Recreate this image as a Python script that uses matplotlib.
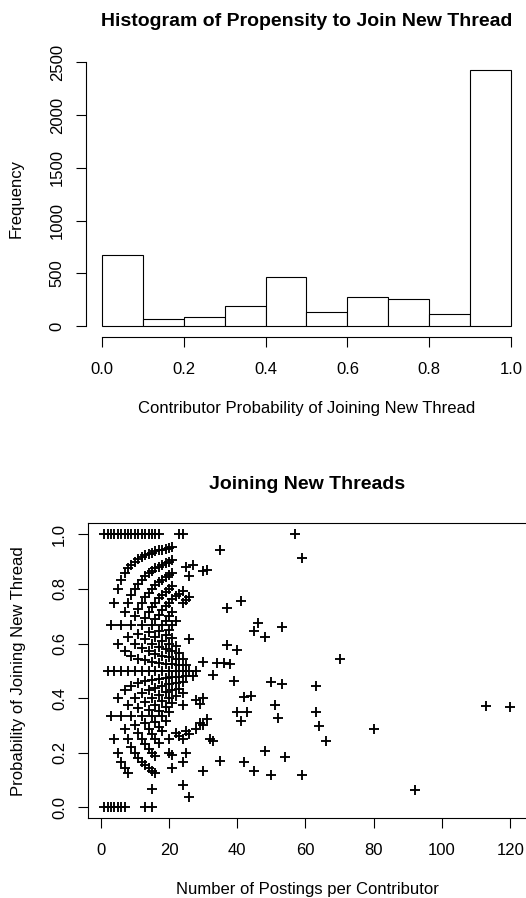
import matplotlib
matplotlib.use("Agg")
import matplotlib.pyplot as plt
import numpy as np

plt.rcParams['font.family'] = ['Liberation Sans', 'DejaVu Sans']

# ---------------- data ----------------
bin_edges = [0.0, 0.1, 0.2, 0.3, 0.4, 0.5, 0.6, 0.7, 0.8, 0.9, 1.0]
bin_counts = [678, 66, 88, 192, 470, 132, 275, 258, 120, 2424]
hist_xticks = [0.0, 0.2, 0.4, 0.6, 0.8, 1.0]
hist_xticklabels = ['0.0', '0.2', '0.4', '0.6', '0.8', '1.0']
hist_yticks = [0, 500, 1000, 1500, 2000, 2500]
hist_yticklabels = ['0', '500', '1000', '1500', '2000', '2500']

postings = [
    1, 1,
    2, 2, 2,
    3, 3, 3, 3,
    4, 4, 4, 4, 4,
    5, 5, 5, 5, 5, 5,
    6, 6, 6, 6, 6, 6, 6,
    7, 7, 7, 7, 7, 7, 7, 7,
    8, 8, 8, 8, 8, 8, 8, 8,
    9, 9, 9, 9, 9, 9, 9, 9,
    10, 10, 10, 10, 10, 10, 10, 10, 10,
    11, 11, 11, 11, 11, 11, 11, 11, 11, 11,
    12, 12, 12, 12, 12, 12, 12, 12, 12, 12, 12,
    13, 13, 13, 13, 13, 13, 13, 13, 13, 13, 13, 13, 13,
    14, 14, 14, 14, 14, 14, 14, 14, 14, 14, 14, 14, 14,
    15, 15, 15, 15, 15, 15, 15, 15, 15, 15, 15, 15, 15, 15, 15, 15,
    16, 16, 16, 16, 16, 16, 16, 16, 16, 16, 16, 16, 16, 16, 16,
    17, 17, 17, 17, 17, 17, 17, 17, 17, 17, 17, 17, 17, 17,
    18, 18, 18, 18, 18, 18, 18, 18, 18, 18, 18, 18, 18,
    19, 19, 19, 19, 19, 19, 19, 19, 19, 19, 19, 19, 19,
    20, 20, 20, 20, 20, 20, 20, 20, 20, 20, 20, 20, 20, 20, 20,
    21, 21, 21, 21, 21, 21, 21, 21, 21, 21, 21, 21, 21, 21, 21,
    22, 22, 22, 22, 22, 22, 22, 22,
    23, 23, 23, 23, 23, 23, 23,
    24, 24, 24, 24, 24, 24, 24, 24, 24, 24, 24,
    25, 25, 25, 25, 25, 25,
    26, 26, 26, 26, 26, 26,
    27, 27,
    28, 28, 28,
    29, 29,
    30, 30, 30, 30, 30,
    31, 31,
    32,
    33, 33,
    34,
    35, 35,
    36,
    37, 37,
    38,
    39,
    40, 40,
    41, 41,
    42, 42,
    43,
    44,
    45, 45,
    46,
    48, 48,
    50, 50,
    51,
    52,
    53, 53,
    54,
    57,
    59, 59,
    63, 63,
    64,
    66,
    70,
    80,
    92,
    113,
    120,
]

join_prob = [
    0.0, 1.0,
    0.0, 0.5, 1.0,
    0.0, 0.333, 0.667, 1.0,
    0.0, 0.25, 0.5, 0.75, 1.0,
    0.0, 0.2, 0.4, 0.6, 0.8, 1.0,
    0.0, 0.167, 0.333, 0.5, 0.667, 0.833, 1.0,
    0.0, 0.143, 0.286, 0.429, 0.571, 0.714, 0.857, 1.0,
    0.125, 0.25, 0.375, 0.5, 0.625, 0.75, 0.875, 1.0,
    0.222, 0.333, 0.444, 0.556, 0.667, 0.778, 0.889, 1.0,
    0.2, 0.3, 0.4, 0.5, 0.6, 0.7, 0.8, 0.9, 1.0,
    0.182, 0.273, 0.364, 0.455, 0.545, 0.636, 0.727, 0.818, 0.909, 1.0,
    0.167, 0.25, 0.333, 0.417, 0.5, 0.583, 0.667, 0.75, 0.833, 0.917, 1.0,
    0.0, 0.154, 0.231, 0.308, 0.385, 0.462, 0.538, 0.615, 0.692, 0.769, 0.846, 0.923, 1.0,
    0.143, 0.214, 0.286, 0.357, 0.429, 0.5, 0.571, 0.643, 0.714, 0.786, 0.857, 0.929, 1.0,
    0.0, 0.067, 0.133, 0.2, 0.267, 0.333, 0.4, 0.467, 0.533, 0.6, 0.667, 0.733, 0.8, 0.867, 0.933, 1.0,
    0.125, 0.188, 0.25, 0.313, 0.375, 0.438, 0.5, 0.563, 0.625, 0.688, 0.75, 0.813, 0.875, 0.938, 1.0,
    0.235, 0.294, 0.353, 0.412, 0.471, 0.529, 0.588, 0.647, 0.706, 0.765, 0.824, 0.882, 0.941, 1.0,
    0.278, 0.333, 0.389, 0.444, 0.5, 0.556, 0.611, 0.667, 0.722, 0.778, 0.833, 0.889, 0.944,
    0.316, 0.368, 0.421, 0.474, 0.526, 0.579, 0.632, 0.684, 0.737, 0.789, 0.842, 0.895, 0.947,
    0.2, 0.25, 0.35, 0.4, 0.45, 0.5, 0.55, 0.6, 0.65, 0.7, 0.75, 0.8, 0.85, 0.9, 0.95,
    0.143, 0.19, 0.381, 0.429, 0.476, 0.524, 0.571, 0.619, 0.667, 0.714, 0.762, 0.81, 0.857, 0.905, 0.952,
    0.273, 0.409, 0.455, 0.5, 0.545, 0.591, 0.682, 0.773,
    0.261, 0.435, 0.478, 0.522, 0.565, 0.783, 1.0,
    0.083, 0.167, 0.25, 0.375, 0.417, 0.458, 0.5, 0.542, 0.75, 0.792, 1.0,
    0.2, 0.28, 0.48, 0.52, 0.76, 0.88,
    0.038, 0.269, 0.5, 0.615, 0.769, 0.846,
    0.481, 0.889,
    0.286, 0.393, 0.5,
    0.31, 0.379,
    0.133, 0.3, 0.4, 0.533, 0.867,
    0.323, 0.871,
    0.25,
    0.242, 0.485,
    0.529,
    0.171, 0.943,
    0.528,
    0.595, 0.730,
    0.526,
    0.462,
    0.35, 0.575,
    0.317, 0.756,
    0.167, 0.405,
    0.349,
    0.409,
    0.133, 0.644,
    0.674,
    0.208, 0.625,
    0.12, 0.46,
    0.373,
    0.327,
    0.453, 0.660,
    0.185,
    1.0,
    0.119, 0.915,
    0.349, 0.444,
    0.297,
    0.242,
    0.543,
    0.2875,
    0.065,
    0.372,
    0.367,
]

scatter_xticks = [0, 20, 40, 60, 80, 100, 120]
scatter_xticklabels = ['0', '20', '40', '60', '80', '100', '120']
scatter_yticks = [0.0, 0.2, 0.4, 0.6, 0.8, 1.0]
scatter_yticklabels = ['0.0', '0.2', '0.4', '0.6', '0.8', '1.0']

# ---------------- figure ----------------
W, H = 526, 898
fig = plt.figure(figsize=(W / 100, H / 100), dpi=100)

FS = 12
TFS = 14.0
TICKLEN = 7.2
LW = 0.8

def fx(px):
    return px / W

# top: histogram
ax1 = fig.add_axes([fx(85.6), 1 - 336.5 / H, fx(441.8), 276.4 / H])
widths = np.diff(bin_edges)
ax1.bar(bin_edges[:-1], bin_counts, width=widths, align='edge',
        facecolor='white', edgecolor='black', linewidth=LW)
ymax = max(bin_counts)
ax1.set_xlim(-0.04, 1.04)
ax1.set_ylim(-0.04 * ymax, 1.04 * ymax)
for s in ['top', 'right']:
    ax1.spines[s].set_visible(False)
ax1.spines['left'].set_bounds(hist_yticks[0], hist_yticks[-1])
ax1.spines['bottom'].set_bounds(hist_xticks[0], hist_xticks[-1])
ax1.set_xticks(hist_xticks, hist_xticklabels)
ax1.set_yticks(hist_yticks, hist_yticklabels, rotation=90, va='center')

# bottom: scatter
ax2 = fig.add_axes([fx(87.9), 1 - 818.2 / H, fx(438.6), 294.8 / H])
ax2.plot(postings, join_prob, linestyle='none', marker='+',
         markersize=6.8, markeredgewidth=1.35, color='black')
xmin, xmax = min(postings), max(postings)
xr = xmax - xmin
ax2.set_xlim(xmin - 0.04 * xr, xmax + 0.04 * xr)
ax2.set_ylim(-0.04, 1.04)
ax2.set_xticks(scatter_xticks, scatter_xticklabels)
ax2.set_yticks(scatter_yticks, scatter_yticklabels, rotation=90, va='center')

for ax, hpx, wpx in [(ax1, 276.4, 441.8), (ax2, 294.8, 438.6)]:
    for s in ax.spines.values():
        s.set_linewidth(LW)
    ax.tick_params(axis='both', length=TICKLEN, width=LW, labelsize=FS, color='black')
    ax.tick_params(axis='x', pad=11)
    ax.tick_params(axis='y', pad=7.8)
    ax.xaxis.set_label_coords(0.5, -76 / hpx)
    ax.yaxis.set_label_coords(-64.5 / wpx, 0.5)

ax1.set_xlabel('Contributor Probability of Joining New Thread', fontsize=FS, va='baseline')
ax1.set_ylabel('Frequency', fontsize=FS, va='baseline')
ax1.set_title('Histogram of Propensity to Join New Thread', fontsize=TFS,
              fontweight='bold', pad=24.5)

ax2.set_xlabel('Number of Postings per Contributor', fontsize=FS, va='baseline')
ax2.set_ylabel('Probability of Joining New Thread', fontsize=FS, va='baseline')
ax2.set_title('Joining New Threads', fontsize=TFS, fontweight='bold', pad=24.5)

fig.savefig('out.png', dpi=100)
